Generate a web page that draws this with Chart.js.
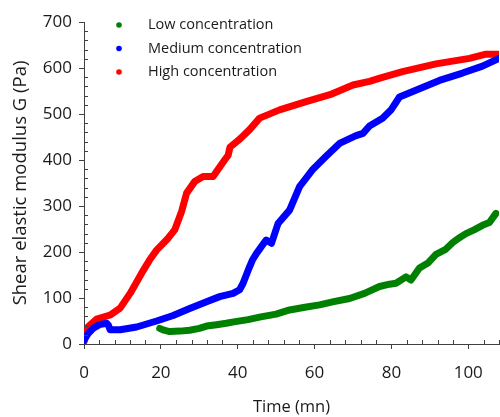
<!DOCTYPE html>
<html>
<head>
<meta charset="utf-8">
<script src="https://cdn.jsdelivr.net/npm/chart.js@4/dist/chart.umd.min.js"></script>
<style>
  html, body { margin: 0; padding: 0; background: #fff; }
  #wrap { width: 500px; height: 417px; }
</style>
</head>
<body>
<div id="wrap"><canvas id="gChart"></canvas></div>
<script>
// time (mn) and shear elastic modulus G (Pa)
const lowTime = [19.7, 20.8, 22.3, 25, 27.5, 30, 31.9, 34.5, 37, 39, 42.7, 46, 50, 53.5, 57.5, 61.3, 65, 69.1, 73, 76.9, 79.5, 81.2, 83.8, 85.1, 87.3, 89.5, 91.6, 94, 95.9, 97.5, 99.4, 101.5, 103.7, 105.5, 107.2];
const lowG = [34, 30, 27, 28, 30, 34, 39, 42, 45, 48, 53, 59, 65, 74, 80, 85, 92, 99, 110, 125, 130, 132, 146, 139, 165, 176, 195, 205, 220, 230, 240, 248, 258, 264, 284];

const mediumTime = [0, 1, 2.4, 4, 5.9, 6.4, 6.8, 9.4, 13.7, 18.9, 23.2, 27.5, 31.9, 35.3, 38.8, 40.5, 41.4, 42.7, 43.8, 44.9, 47.4, 48.8, 50.5, 53.5, 56.1, 59.6, 63, 66.5, 70.8, 72.6, 74.3, 77.7, 80, 82.1, 87.3, 92.5, 98.5, 103.7, 108];
const mediumG = [8, 22, 34, 42, 45, 40, 31, 31, 37, 50, 62, 77, 92, 103, 110, 118, 132, 160, 182, 197, 226, 219, 262, 291, 342, 380, 408, 436, 453, 458, 474, 491, 510, 537, 555, 573, 589, 604, 621];

const highTime = [0, 1.1, 3.3, 6.8, 9.4, 12, 15, 17.1, 18.9, 21.9, 23.6, 25.4, 26.7, 28.8, 31, 33.6, 34.5, 36.6, 37.5, 38, 40.5, 43.1, 45.7, 50.9, 57.8, 64, 70, 74.3, 77, 82.9, 91.6, 100.3, 104.6, 108];
const highG = [5, 38, 54, 63, 78, 110, 154, 183, 204, 230, 248, 288, 328, 353, 364, 364, 375, 400, 410, 428, 445, 466, 491, 509, 527, 542, 563, 571, 578, 592, 609, 621, 630, 630];

const xTicks = [0, 20, 40, 60, 80, 100];
const yTicks = [0, 100, 200, 300, 400, 500, 600, 700];

const axisColor = '#404040';
const textColor = '#1a1a1a';
const fontFamily = '"Open Sans", sans-serif';

function toPoints(xs, ys) {
    return xs.map((x, i) => ({ x: x, y: ys[i] }));
}

function series(label, xs, ys, color) {
    return {
        label: label,
        data: toPoints(xs, ys),
        showLine: true,
        borderColor: color,
        backgroundColor: color,
        borderWidth: 7,
        borderJoinStyle: 'round',
        borderCapStyle: 'round',
        pointRadius: 0,
        pointHoverRadius: 0
    };
}

// small ticks between the labelled ones, drawn inside the plot
const minorTicks = {
    id: 'minorTicks',
    afterDraw(chart) {
        const ctx = chart.ctx;
        const x = chart.scales.x;
        const y = chart.scales.y;
        ctx.save();
        ctx.strokeStyle = axisColor;
        ctx.lineWidth = 1;
        ctx.beginPath();
        x.ticks.forEach(t => {
            if (xTicks.includes(t.value)) return;
            const px = Math.round(x.getPixelForValue(t.value)) + 0.5;
            ctx.moveTo(px, y.bottom);
            ctx.lineTo(px, y.bottom - 4);
        });
        y.ticks.forEach(t => {
            if (yTicks.includes(t.value)) return;
            const py = Math.round(y.getPixelForValue(t.value)) + 0.5;
            ctx.moveTo(x.left, py);
            ctx.lineTo(x.left + 4, py);
        });
        ctx.stroke();
        ctx.restore();
    }
};

// legend inside the plot, top left, one entry per row
const insideLegend = {
    id: 'insideLegend',
    afterDraw(chart) {
        const ctx = chart.ctx;
        const area = chart.chartArea;
        ctx.save();
        ctx.font = '14.5px ' + fontFamily;
        ctx.textBaseline = 'middle';
        chart.data.datasets.forEach((ds, i) => {
            const cy = area.top + 3 + i * 23.5;
            ctx.fillStyle = ds.borderColor;
            ctx.beginPath();
            ctx.arc(area.left + 35, cy, 2.8, 0, Math.PI * 2);
            ctx.fill();
            ctx.fillStyle = textColor;
            ctx.fillText(ds.label, area.left + 64, cy);
        });
        ctx.restore();
    }
};

new Chart(document.getElementById('gChart'), {
    type: 'scatter',
    data: {
        datasets: [
            series('Low concentration', lowTime, lowG, '#008000'),
            series('Medium concentration', mediumTime, mediumG, '#0000ff'),
            series('High concentration', highTime, highG, '#ff0000')
        ]
    },
    options: {
        responsive: true,
        maintainAspectRatio: false,
        animation: false,
        layout: { padding: { top: 22, right: 1, left: 0, bottom: 0 } },
        plugins: {
            legend: { display: false },
            tooltip: { enabled: false }
        },
        scales: {
            x: {
                type: 'linear',
                min: 0,
                max: 108,
                afterFit: s => { s.height = 73; s.paddingLeft = 0; s.paddingRight = 0; },
                border: { color: axisColor, width: 1 },
                grid: {
                    drawOnChartArea: false,
                    tickLength: 5,
                    tickColor: c => xTicks.includes(c.tick.value) ? axisColor : 'rgba(0,0,0,0)'
                },
                ticks: {
                    stepSize: 4,
                    autoSkip: false,
                    maxRotation: 0,
                    padding: 14,
                    color: textColor,
                    font: { family: fontFamily, size: 17 },
                    callback: v => xTicks.includes(v) ? v : ''
                },
                title: {
                    display: true,
                    text: 'Time (mn)',
                    color: textColor,
                    font: { family: fontFamily, size: 16.5 },
                    padding: { top: 0, bottom: 0 }
                }
            },
            y: {
                type: 'linear',
                min: 0,
                max: 700,
                afterFit: s => { s.width = 84; s.paddingTop = 0; s.paddingBottom = 0; },
                border: { color: axisColor, width: 1 },
                grid: {
                    drawOnChartArea: false,
                    tickLength: 5,
                    tickColor: c => yTicks.includes(c.tick.value) ? axisColor : 'rgba(0,0,0,0)'
                },
                ticks: {
                    stepSize: 20,
                    autoSkip: false,
                    padding: 7,
                    color: textColor,
                    font: { family: fontFamily, size: 17 },
                    callback: v => yTicks.includes(v) ? v : ''
                },
                title: {
                    display: true,
                    text: 'Shear elastic modulus G (Pa)',
                    color: textColor,
                    font: { family: fontFamily, size: 18.5 },
                    padding: { top: 10, bottom: 0 }
                }
            }
        }
    },
    plugins: [minorTicks, insideLegend]
});
</script>
</body>
</html>
